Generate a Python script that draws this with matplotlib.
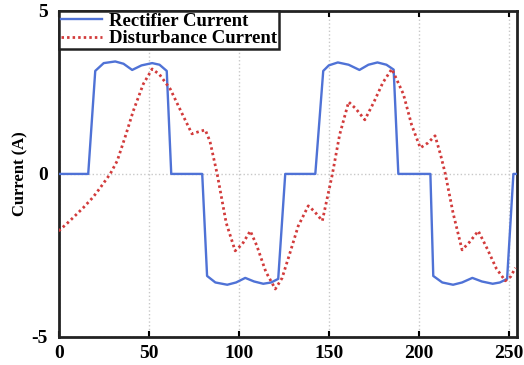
import matplotlib
matplotlib.use("Agg")
import matplotlib.pyplot as plt

plt.rcParams["axes.unicode_minus"] = False

x_rect = [0, 16.4, 20.3, 25, 31.4, 36, 40.8, 46, 51.9, 56, 60, 62.5,
          79.7, 82.4, 87, 93.6, 98.5, 103.6, 108.5, 113.6, 118, 121.9, 125.8,
          142.5, 146.9, 150, 155, 161, 167, 172, 177, 182, 186, 188.6,
          206.4, 208, 213, 219, 224, 229.7, 235, 241, 245, 249, 252.5, 254.5]
y_rect = [0, 0, 3.16, 3.4, 3.45, 3.38, 3.19, 3.33, 3.4, 3.35, 3.16, 0,
          0, -3.13, -3.33, -3.4, -3.33, -3.19, -3.3, -3.37, -3.33, -3.22, 0,
          0, 3.16, 3.33, 3.42, 3.35, 3.19, 3.35, 3.42, 3.35, 3.2, 0,
          0, -3.13, -3.33, -3.4, -3.33, -3.19, -3.3, -3.37, -3.33, -3.22, 0, 0]

x_dist = [0, 6, 13.6, 19, 23, 28.6, 32.5, 37, 41.4, 47, 51.9, 56, 62, 68.6, 74, 78,
          81.4, 84, 88, 93, 98, 102, 106.4, 110, 115, 120.3, 124, 128, 133, 138.6,
          142, 146.4, 152, 156, 161, 165, 170, 175, 180, 185, 191.4, 196, 200.8,
          205, 209, 212, 214.7, 219, 224, 228, 233, 238, 243, 248, 251, 253.6]
y_dist = [-1.75, -1.45, -1.04, -0.72, -0.43, 0, 0.4, 1.15, 1.93, 2.76, 3.22, 3.05,
          2.6, 1.84, 1.23, 1.3, 1.35, 1.0, 0, -1.5, -2.36, -2.15, -1.75, -2.2, -3.0,
          -3.53, -3.2, -2.5, -1.6, -0.98, -1.15, -1.44, 0, 1.2, 2.21, 2.0, 1.66, 2.2,
          2.8, 3.22, 2.45, 1.5, 0.8, 0.95, 1.17, 0.6, 0, -1.2, -2.33, -2.1, -1.75,
          -2.3, -2.9, -3.28, -3.15, -2.88]

x_ticks = [0, 50, 100, 150, 200, 250]
y_ticks = [-5, 0, 5]

serif = ["Liberation Serif", "DejaVu Serif"]
fig = plt.figure(figsize=(5.24, 3.65), dpi=100)
ax = fig.add_axes([0.112, 0.077, 0.875, 0.893])

ax.plot(x_rect, y_rect, color="#4f72d6", lw=1.7, label="Rectifier Current", zorder=3)
ax.plot(x_dist, y_dist, color="#d23b3b", lw=2.0, linestyle=(0, (0.9, 1.1)),
        label="Disturbance Current", zorder=4)

ax.set_xlim(0, 254.6)
ax.set_ylim(-5, 5)
ax.set_xticks(x_ticks)
ax.set_yticks(y_ticks)
ax.grid(True, color="#c8c8c8", linestyle=":", linewidth=1.0)
ax.tick_params(axis="x", direction="in", length=4, width=1.5, top=True, pad=6)
ax.tick_params(axis="y", direction="in", length=0, pad=8)
for lab in ax.get_xticklabels() + ax.get_yticklabels():
    lab.set_fontfamily(serif)
    lab.set_fontweight("bold")
    lab.set_fontsize(14)
for s in ax.spines.values():
    s.set_linewidth(2.0)
    s.set_color("#222222")

ax.set_ylabel("Current (A)", fontfamily=serif, fontweight="bold", fontsize=12, labelpad=2)

leg = ax.legend(loc="upper left", borderaxespad=0, frameon=True, fancybox=False,
                prop={"family": serif, "weight": "bold", "size": 13.5},
                handlelength=2.2, handletextpad=0.4, borderpad=0.1, labelspacing=0.0)
leg.get_frame().set_edgecolor("#222222")
leg.get_frame().set_linewidth(1.8)
leg.get_frame().set_alpha(1)

fig.savefig("out.png", dpi=100)
